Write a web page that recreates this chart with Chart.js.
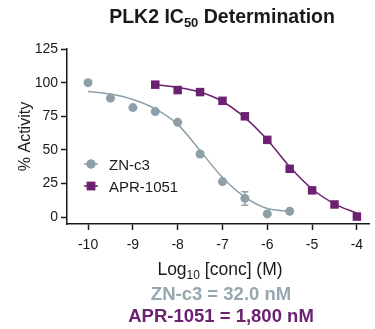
<!DOCTYPE html>
<html>
<head>
<meta charset="utf-8">
<script src="https://cdn.jsdelivr.net/npm/chart.js@4/dist/chart.umd.min.js"></script>
<style>
  html, body { margin: 0; padding: 0; background: #fff; }
</style>
</head>
<body>
<canvas id="ic50" width="375" height="329"></canvas>
<script>
// values
const znConc = [-10, -9.5, -9, -8.5, -8, -7.5, -7, -6.5, -6, -5.5];
const znActivity = [100, 88.5, 81.5, 78.5, 70.5, 47, 26.5, 14, 2.5, 4.5];
const znError = [0, 0, 0, 0, 0, 0, 0, 5, 0, 0];
const aprConc = [-8.5, -8, -7.5, -7, -6.5, -6, -5.5, -5, -4.5, -4];
const aprActivity = [98.5, 94.5, 93, 86.5, 75, 57.5, 36, 20, 9.5, 0.5];

// fitted curves, read at half-log steps
const znFitConc = [-10, -9.5, -9, -8.5, -8, -7.5, -7, -6.5, -6, -5.5];
const znFit = [93.5, 91.5, 87.5, 80.5, 69, 49.5, 29.5, 15, 6.5, 4.5];
const aprFitConc = [-8.5, -8, -7.5, -7, -6.5, -6, -5.5, -5, -4.5, -4];
const aprFit = [98.5, 96.5, 93, 86, 74, 57.5, 37.5, 21, 10, 3];

const xTicks = [-10, -9, -8, -7, -6, -5, -4];
const yTicks = [0, 25, 50, 75, 100, 125];
const seriesNames = ["ZN-c3", "APR-1051"];
const ic50Labels = ["ZN-c3 = 32.0 nM", "APR-1051 = 1,800 nM"];

const GRAY = "#8d9fa8";
const PURPLE = "#6c2171";
const INK = "#1a1a1a";
const FONT = "'Liberation Sans', Arial, Helvetica, sans-serif";

const pts = (xs, ys) => xs.map((x, i) => ({ x, y: ys[i] }));

// text with a subscript part: [[text, isSub], ...]
function drawRich(ctx, parts, cx, y, size, weight) {
  const subSize = Math.round(size * 0.68);
  let total = 0;
  parts.forEach(([t, sub]) => {
    ctx.font = `${weight} ${sub ? subSize : size}px ${FONT}`;
    total += ctx.measureText(t).width;
  });
  let x = cx - total / 2;
  parts.forEach(([t, sub]) => {
    ctx.font = `${weight} ${sub ? subSize : size}px ${FONT}`;
    ctx.fillText(t, x, sub ? y + size * 0.22 : y);
    x += ctx.measureText(t).width;
  });
}

const decorations = {
  id: "decorations",
  afterDatasetsDraw(chart) {
    const { ctx, scales: { x, y } } = chart;
    ctx.save();
    // error bars
    ctx.strokeStyle = GRAY;
    ctx.lineWidth = 1.5;
    znError.forEach((e, i) => {
      if (!e) return;
      const px = x.getPixelForValue(znConc[i]);
      const top = y.getPixelForValue(znActivity[i] + e);
      const bot = y.getPixelForValue(znActivity[i] - e);
      ctx.beginPath();
      ctx.moveTo(px, top); ctx.lineTo(px, bot);
      ctx.moveTo(px - 3.5, top); ctx.lineTo(px + 3.5, top);
      ctx.moveTo(px - 3.5, bot); ctx.lineTo(px + 3.5, bot);
      ctx.stroke();
    });
    ctx.restore();
  },
  afterDraw(chart) {
    const { ctx, chartArea } = chart;
    const cx = 221;
    ctx.save();
    ctx.textAlign = "left";
    ctx.textBaseline = "alphabetic";
    ctx.fillStyle = INK;

    drawRich(ctx, [["PLK2 IC", false], ["50", true], [" Determination", false]], 222, 23, 19.5, "bold");
    drawRich(ctx, [["Log", false], ["10", true], [" [conc] (M)", false]], 220, 275, 17.5, "normal");

    ctx.textAlign = "center";
    ctx.font = `bold 18.5px ${FONT}`;
    ctx.fillStyle = "#97a7af";
    ctx.fillText(ic50Labels[0], cx, 300);
    ctx.fillStyle = PURPLE;
    ctx.fillText(ic50Labels[1], cx, 322);

    // y title
    ctx.save();
    ctx.translate(30, (chartArea.top + chartArea.bottom) / 2);
    ctx.rotate(-Math.PI / 2);
    ctx.fillStyle = INK;
    ctx.font = `16px ${FONT}`;
    ctx.fillText("% Activity", 0, 0);
    ctx.restore();

    // legend inside plot
    const colors = [GRAY, PURPLE];
    const styles = ["circle", "rect"];
    const radii = [4.5, 6];
    [164, 186].forEach((ly, i) => {
      ctx.strokeStyle = colors[i];
      ctx.lineWidth = 1.5;
      ctx.beginPath();
      ctx.moveTo(84, ly); ctx.lineTo(98, ly);
      ctx.stroke();
      ctx.fillStyle = colors[i];
      Chart.helpers.drawPoint(ctx, { pointStyle: styles[i], radius: radii[i], borderWidth: 0 }, 91, ly);
      ctx.fill();
      ctx.fillStyle = INK;
      ctx.textAlign = "left";
      ctx.font = `15px ${FONT}`;
      ctx.fillText(seriesNames[i], 109, ly + 5.5);
    });
    ctx.restore();
  }
};

const axisStyle = {
  grid: { drawOnChartArea: false, drawTicks: true, tickLength: 6, tickColor: INK, tickWidth: 1.5 },
  border: { color: INK, width: 1.5 },
};

new Chart(document.getElementById("ic50"), {
  type: "scatter",
  data: {
    datasets: [
      { label: "ZN-c3 fit", data: pts(znFitConc, znFit), showLine: true, borderColor: GRAY,
        borderWidth: 1.5, pointRadius: 0, cubicInterpolationMode: "monotone", clip: false },
      { label: "APR-1051 fit", data: pts(aprFitConc, aprFit), showLine: true, borderColor: PURPLE,
        borderWidth: 1.5, pointRadius: 0, cubicInterpolationMode: "monotone", clip: false },
      { label: seriesNames[0], data: pts(znConc, znActivity), pointStyle: "circle", pointRadius: 4.5,
        backgroundColor: GRAY, borderWidth: 0, clip: false },
      { label: seriesNames[1], data: pts(aprConc, aprActivity), pointStyle: "rect", pointRadius: 6,
        backgroundColor: PURPLE, borderWidth: 0, clip: false },
    ],
  },
  options: {
    responsive: false,
    animation: false,
    layout: { padding: { top: 49, right: 0, bottom: 0, left: 0 } },
    plugins: { legend: { display: false }, tooltip: { enabled: false } },
    scales: {
      x: {
        type: "linear",
        min: -10.47,
        max: -3.73,
        afterBuildTicks: s => { s.ticks = xTicks.map(v => ({ value: v })); },
        afterFit: s => { s.height = 105; },
        ...axisStyle,
        ticks: { color: INK, font: { family: FONT, size: 14 }, padding: 7, maxRotation: 0 },
      },
      y: {
        min: -5,
        max: 125,
        afterBuildTicks: s => { s.ticks = yTicks.map(v => ({ value: v })); },
        afterFit: s => { s.width = 67; },
        ...axisStyle,
        ticks: { color: INK, font: { family: FONT, size: 14 }, padding: 3 },
      },
    },
  },
  plugins: [decorations],
});
</script>
</body>
</html>
